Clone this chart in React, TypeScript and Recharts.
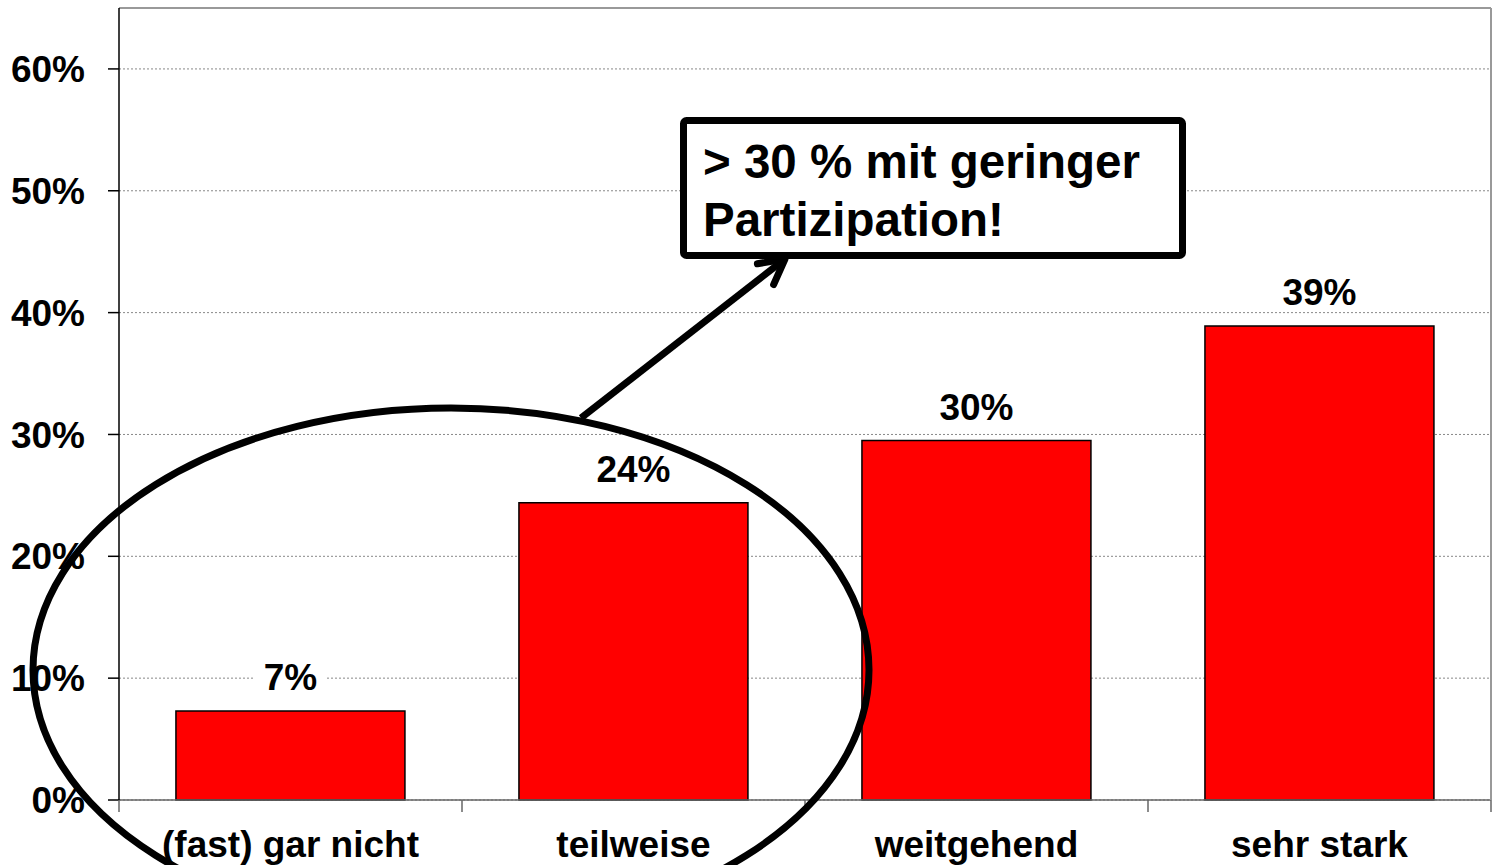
import React from 'react'
import {
  BarChart, Bar,
  CartesianGrid,
  XAxis, YAxis,
  LabelList,
  ReferenceLine,
} from 'recharts'

const categories = ['(fast) gar nicht', 'teilweise', 'weitgehend', 'sehr stark']
const shares = [7.3, 24.4, 29.5, 38.9]
const yTicks = [0, 10, 20, 30, 40, 50, 60]
const calloutLines = ['> 30 % mit geringer', 'Partizipation!']

const FONT = '"Liberation Sans", Arial, Helvetica, sans-serif'
const W = 1495
const H = 865

const data = categories.map((name, i) => ({ name, value: shares[i] }))

// value label with a white box behind it (cuts the grid line like the original)
const ValueLabel = (props: any) => {
  const { x, y, width, value } = props
  const text = `${Math.round(value)}%`
  const fs = 37
  const digits = text.length - 1
  const tw = (digits * 0.556 + 0.889) * fs
  const cx = x + width / 2
  const base = y - 21
  return (
    <g>
      <rect x={cx - tw / 2 - 9} y={base - 31} width={tw + 18} height={37} fill="#fff" />
      <text x={cx} y={base} textAnchor="middle" fontFamily={FONT} fontWeight="bold" fontSize={fs} fill="#000">
        {text}
      </text>
    </g>
  )
}

// category label + tick marks at the band boundaries
const CategoryTick = (props: any) => {
  const { x, y, payload, index } = props
  const half = payload?.offset ?? 171.5
  return (
    <g>
      <line x1={x - half} x2={x - half} y1={y} y2={y + 12} stroke="#666" strokeWidth={1.5} />
      {index === categories.length - 1 && (
        <line x1={x + half} x2={x + half} y1={y} y2={y + 12} stroke="#666" strokeWidth={1.5} />
      )}
      <text x={x} y={y + 57} textAnchor="middle" fontFamily={FONT} fontWeight="bold" fontSize={37} fill="#000">
        {payload.value}
      </text>
    </g>
  )
}

// arrow from the ellipse to the callout box
function arrowHead(tail: [number, number], tip: [number, number], len: number, ang: number) {
  const dx = tail[0] - tip[0]
  const dy = tail[1] - tip[1]
  const l = Math.hypot(dx, dy)
  const bx = dx / l
  const by = dy / l
  const c = Math.cos(ang)
  const s = Math.sin(ang)
  const a1 = [tip[0] + len * (bx * c - by * s), tip[1] + len * (bx * s + by * c)]
  const a2 = [tip[0] + len * (bx * c + by * s), tip[1] + len * (-bx * s + by * c)]
  return `${a1[0]},${a1[1]} ${tip[0]},${tip[1]} ${a2[0]},${a2[1]}`
}

const Annotations = () => {
  const tail: [number, number] = [581, 418]
  const tip: [number, number] = [785, 259]
  return (
    <svg width={W} height={H} style={{ position: 'absolute', left: 0, top: 0, pointerEvents: 'none' }}>
      <ellipse cx={451} cy={670} rx={418} ry={262} fill="none" stroke="#000" strokeWidth={7} />
      <line x1={tail[0]} y1={tail[1]} x2={tip[0]} y2={tip[1]} stroke="#000" strokeWidth={7} />
      <polyline points={arrowHead(tail, tip, 28, 0.49)} fill="none" stroke="#000" strokeWidth={7} strokeLinecap="round" strokeLinejoin="round" />
      <rect x={683.5} y={120.5} width={499} height={135} rx={3} fill="#fff" stroke="#000" strokeWidth={7} />
      {calloutLines.map((t, i) => (
        <text key={t} x={703} y={178 + i * 58} fontFamily={FONT} fontWeight="bold" fontSize={47.5} fill="#000">
          {t}
        </text>
      ))}
    </svg>
  )
}

export default function App() {
  return (
    <div style={{ position: 'absolute', left: 0, top: 0, width: W, height: H, background: '#fff' }}>
      <BarChart
        width={W}
        height={H}
        data={data}
        margin={{ top: 8, right: 0, left: 0, bottom: 0 }}
        barCategoryGap="16.6%"
      >
        <CartesianGrid vertical={false} stroke="#888" strokeDasharray="2 2" />
        <ReferenceLine y={65} stroke="#999" strokeWidth={2} />
        <XAxis
          dataKey="name"
          height={65}
          tickSize={0}
          tickMargin={0}
          tickLine={false}
          axisLine={{ stroke: '#666', strokeWidth: 1.5 }}
          tick={<CategoryTick />}
          interval={0}
        />
        <YAxis
          width={119}
          domain={[0, 65]}
          ticks={yTicks}
          tickFormatter={(v: number) => `${v}%`}
          tickSize={11}
          tickMargin={23}
          axisLine={{ stroke: '#000', strokeWidth: 1.5 }}
          tickLine={{ stroke: '#000', strokeWidth: 1.5 }}
          tick={{ fill: '#000', fontSize: 37, fontWeight: 'bold', fontFamily: FONT }}
        />
        <YAxis
          yAxisId="frame"
          orientation="right"
          width={4}
          domain={[0, 65]}
          tick={false}
          tickLine={false}
          axisLine={{ stroke: '#999', strokeWidth: 2 }}
        />
        <Bar dataKey="value" fill="#ff0000" stroke="#000" strokeWidth={1.5} isAnimationActive={false}>
          <LabelList dataKey="value" content={<ValueLabel />} />
        </Bar>
      </BarChart>
      <Annotations />
    </div>
  )
}
